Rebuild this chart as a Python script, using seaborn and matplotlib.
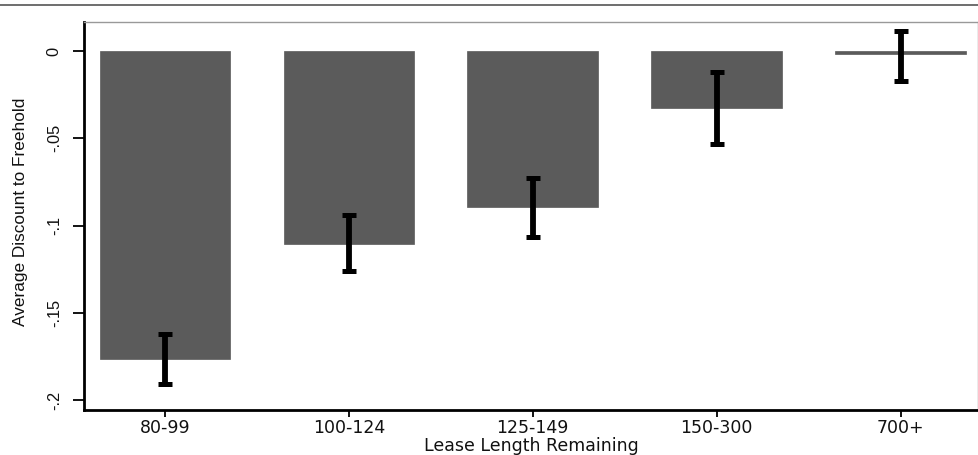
import matplotlib
matplotlib.use("Agg")
import matplotlib.pyplot as plt
from matplotlib.lines import Line2D
from matplotlib import font_manager as fm
import seaborn as sns
import numpy as np
import pandas as pd

categories = ["80-99", "100-124", "125-149", "150-300", "700+"]
discount = [-0.1764, -0.1105, -0.0893, -0.0326, -0.0015]
ci_upper = [-0.162, -0.094, -0.0727, -0.012, 0.0115]
ci_lower = [-0.191, -0.126, -0.1065, -0.0533, -0.017]
ytick_vals = [0, -0.05, -0.1, -0.15, -0.2]
ytick_labels = ["0", "-.05", "-.1", "-.15", "-.2"]


def has_font(name):
    try:
        fm.findfont(fm.FontProperties(family=name), fallback_to_default=False)
        return True
    except Exception:
        return False


narrow_ok = has_font("Liberation Sans Narrow")
narrow_fam = ["Liberation Sans Narrow", "DejaVu Sans"] if narrow_ok else ["Liberation Sans", "DejaVu Sans"]

sns.set_theme(style="white")
plt.rcParams["font.family"] = ["DejaVu Sans"]
plt.rcParams["text.color"] = "#111111"
plt.rcParams["axes.labelcolor"] = "#111111"
plt.rcParams["xtick.color"] = "#111111"
plt.rcParams["ytick.color"] = "#111111"

fig = plt.figure(figsize=(9.79, 4.55), dpi=100)
ax = fig.add_axes([0.0858, 0.0989, 0.913, 0.8527])

df = pd.DataFrame({"cat": categories, "val": discount})
sns.barplot(data=df, x="cat", y="val", color="#5b5b5b", saturation=1,
            width=0.71, errorbar=None, ax=ax, edgecolor="#5b5b5b", linewidth=0.5)

pos = np.arange(len(categories))
lo = np.array(ci_lower)
hi = np.array(ci_upper)
mid = (lo + hi) / 2
ax.errorbar(pos, mid, yerr=(hi - lo) / 2, fmt="none", ecolor="black",
            elinewidth=4.2, capsize=4.8, capthick=3.6, zorder=5)

ax.set_xlim(-0.44, 4.42)
ax.set_ylim(-0.2057, 0.0166)
ax.set_yticks(ytick_vals)
ysize = 14.0 if narrow_ok else 11.8
ax.set_yticklabels(ytick_labels, rotation=90, va="center",
                   fontsize=ysize, family=narrow_fam)
ax.tick_params(axis="y", length=8, width=1.3, color="black", left=True, pad=8)
ax.tick_params(axis="x", length=5, width=1.3, color="black", bottom=True, pad=1.5, labelsize=12.5)
ax.set_xlabel("Lease Length Remaining", fontsize=12.5, labelpad=0)
ax.set_ylabel("Average Discount to Freehold", fontsize=(13.5 if narrow_ok else 12.4),
              family=narrow_fam)
ax.yaxis.set_label_coords(-0.063, 0.51)

for s in ["left", "bottom"]:
    ax.spines[s].set_color("black")
    ax.spines[s].set_linewidth(2.0)
for s in ["top", "right"]:
    ax.spines[s].set_color("#999999")
    ax.spines[s].set_linewidth(1.0)

fig.add_artist(Line2D([0.0, 1.0], [0.989, 0.989], color="#555555", linewidth=1.2,
                      transform=fig.transFigure))

fig.savefig("out.png", dpi=100, facecolor="white")
